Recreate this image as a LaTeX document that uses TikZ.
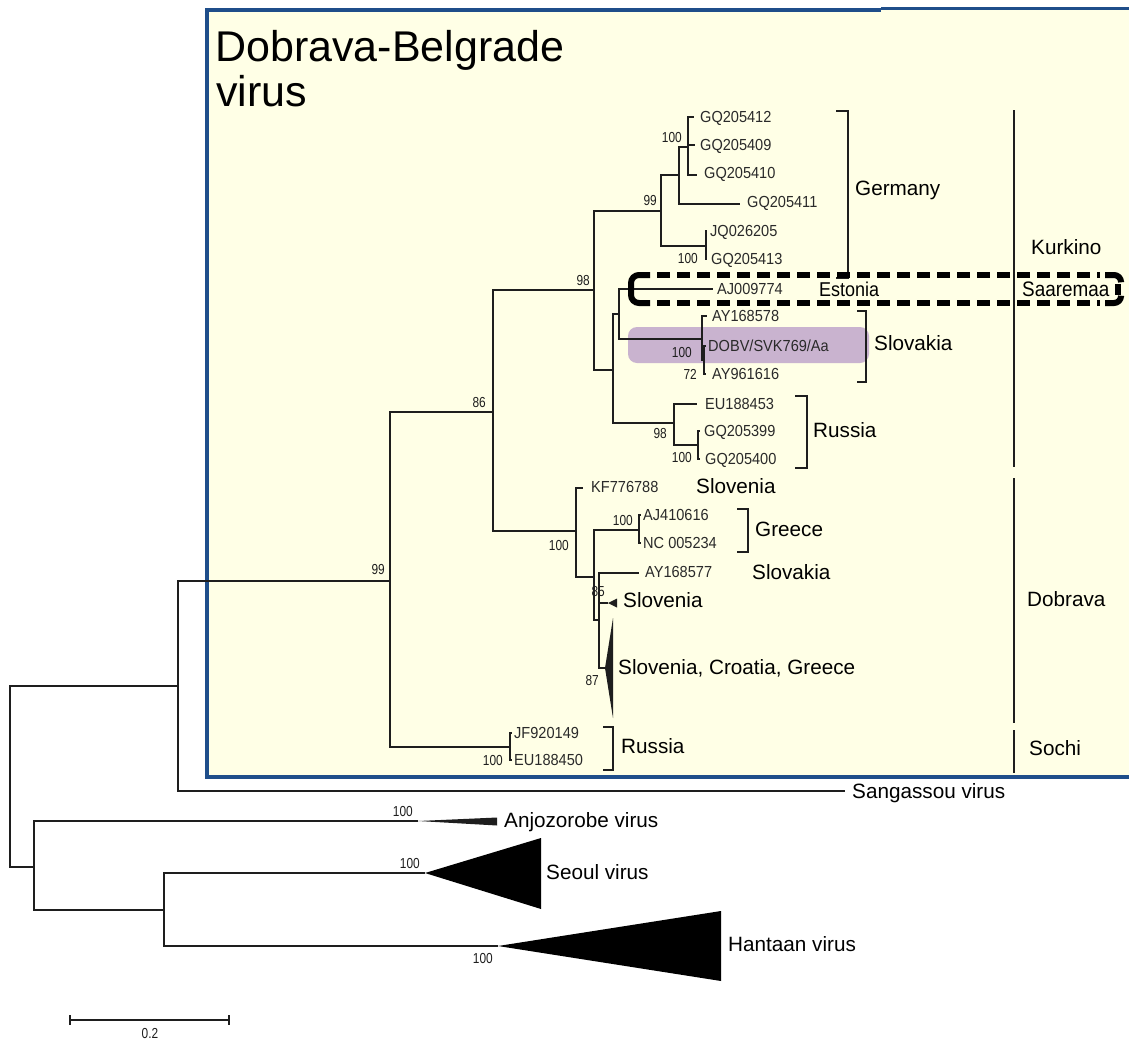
\documentclass[tikz,border=0pt]{standalone}
\usepackage{fontspec}
\setmainfont{Liberation Sans}
\newfontfamily\leafface[FakeStretch=0.91]{Liberation Sans}
\newfontfamily\bootface[FakeStretch=0.82]{Liberation Sans}
\newfontfamily\tagface[FakeStretch=0.9]{Liberation Sans}
\definecolor{boxfill}{HTML}{FFFFE6}
\definecolor{boxedge}{HTML}{1F4E8A}
\definecolor{treeink}{HTML}{1E1E1E}
\definecolor{leafink}{HTML}{2A2A2A}
\definecolor{hilite}{HTML}{C9B3CF}
\begin{document}
\begin{tikzpicture}[x=1pt,y=-1pt,
  branch/.style={draw=treeink,line width=1.1pt},
  bracket/.style={draw=treeink,line width=1.2pt},
  frame/.style={draw=black,line width=6pt},
  leaf/.style={anchor=base west,inner sep=0pt,text=leafink,
    font=\leafface\fontsize{16pt}{16pt}\selectfont,yshift=-5.7pt},
  boot/.style={anchor=base east,inner sep=0pt,text=treeink,
    font=\bootface\fontsize{14.5pt}{14.5pt}\selectfont,yshift=-5.2pt},
  region/.style={anchor=base west,inner sep=0pt,text=black,
    font=\fontsize{20.7pt}{20.7pt}\selectfont,yshift=-7.4pt},
  tag/.style={anchor=base west,inner sep=0pt,text=black,
    font=\tagface\fontsize{20pt}{20pt}\selectfont,yshift=-7.2pt},
  heading/.style={anchor=base west,inner sep=0pt,text=black,
    font=\fontsize{43pt}{43pt}\selectfont}]
\useasboundingbox (0,0) rectangle (1129,1041);

% panel of the Dobrava-Belgrade clade
\fill[boxfill] (207,9) rectangle (1129,777);
\draw[boxedge,line width=3.5pt] (1129,777) -- (207,777) -- (207,10) -- (881,10);
\draw[boxedge,line width=3pt] (881,8.5) -- (1129,8.5);
\fill[hilite,rounded corners=9pt] (628,327) rectangle (869,363);

\node[heading] (title1) at (215,62) {Dobrava-Belgrade};
\node[heading] (title2) at (216,106) {virus};

% internal nodes (x = node depth, y = where the parent branch arrives)
\coordinate (root) at (10,776);
\coordinate (nA) at (178,686);
\coordinate (nB) at (34,867);
\coordinate (nC) at (164,910);
\coordinate (n99) at (390,581);
\coordinate (n86) at (493,412);
\coordinate (n98) at (594,290);
\coordinate (nGer) at (661,211);
\coordinate (nG1) at (679,175);
\coordinate (nG2) at (688,147);
\coordinate (nG3) at (706,246);
\coordinate (nK1) at (613,370);
\coordinate (nK2) at (619,314);
\coordinate (nSk) at (702,339);
\coordinate (nSk2) at (704,360);
\coordinate (nRu) at (674,423);
\coordinate (nRu2) at (698,445);
\coordinate (nDo) at (576,531);
\coordinate (nD1) at (594,577);
\coordinate (nGr) at (639,530);
\coordinate (nD2) at (599,620);
\coordinate (nSo) at (510,747);

% branch tips
\coordinate (tSang) at (845,791);
\coordinate (t412) at (694,117);
\coordinate (t409) at (695,145);
\coordinate (t410) at (697,175);
\coordinate (t411) at (740,204);
\coordinate (tJQ) at (707,231);
\coordinate (t413) at (707,259);
\coordinate (tAJ) at (713,289);
\coordinate (tAY8) at (707,316);
\coordinate (tDOBV) at (706,346);
\coordinate (tAY6) at (706,374);
\coordinate (tEU3) at (697,404);
\coordinate (t399) at (700,431);
\coordinate (t400) at (700,459);
\coordinate (tKF) at (583,488);
\coordinate (tAJ4) at (641,515);
\coordinate (tNC) at (641,543);
\coordinate (tAY7) at (639,573);
\coordinate (cSlo) at (608,603);
\coordinate (cBig) at (605,668);
\coordinate (tJF) at (512,733);
\coordinate (tEU0) at (512,760);
\coordinate (cAnj) at (418,821);
\coordinate (cSeo) at (425,873);
\coordinate (cHan) at (498,946);

% rectangular branches
\foreach \p/\c in {root/nA,root/nB,nA/n99,nA/tSang,nB/cAnj,nB/nC,nC/cSeo,nC/cHan,
  n99/n86,n99/nSo,n86/n98,n86/nDo,n98/nGer,n98/nK1,nGer/nG1,nGer/nG3,
  nG1/nG2,nG1/t411,nG2/t412,nG2/t409,nG2/t410,nG3/tJQ,nG3/t413,
  nK1/nK2,nK1/nRu,nK2/tAJ,nK2/nSk,nSk/tAY8,nSk/nSk2,nSk2/tDOBV,nSk2/tAY6,
  nRu/tEU3,nRu/nRu2,nRu2/t399,nRu2/t400,
  nDo/tKF,nDo/nD1,nD1/nGr,nD1/nD2,nGr/tAJ4,nGr/tNC,
  nD2/tAY7,nD2/cSlo,nD2/cBig,nSo/tJF,nSo/tEU0}
  \draw[branch] (\p) |- (\c);

% collapsed clades
\fill[treeink] (cAnj) -- (497,817.5) -- (497,825.5) -- cycle;
\fill[black] (cSeo) -- (541,838) -- (541,909) -- cycle;
\fill[black] (cHan) -- (721,911) -- (721,981) -- cycle;
\fill[treeink] (cSlo) -- (617,598.5) -- (617,607.5) -- cycle;
\fill[treeink] (cBig) -- (613,618) -- (613,718) -- cycle;

% sequence labels
\node[leaf] (l412) at (700,117) {GQ205412};
\node[leaf] (l409) at (700,145) {GQ205409};
\node[leaf] (l410) at (704,173) {GQ205410};
\node[leaf] (l411) at (747,202) {GQ205411};
\node[leaf] (lJQ) at (710,231) {JQ026205};
\node[leaf] (l413) at (711,259) {GQ205413};
\node[leaf] (lAJ) at (717,289) {AJ009774};
\node[leaf] (lAY8) at (712,316) {AY168578};
\node[leaf] (lDOBV) at (708,346) {DOBV/SVK769/Aa};
\node[leaf] (lAY6) at (712,374) {AY961616};
\node[leaf] (lEU3) at (705,404) {EU188453};
\node[leaf] (l399) at (704,431) {GQ205399};
\node[leaf] (l400) at (705,459) {GQ205400};
\node[leaf] (lKF) at (591,487) {KF776788};
\node[leaf] (lAJ4) at (643,515) {AJ410616};
\node[leaf] (lNC) at (643,543) {NC 005234};
\node[leaf] (lAY7) at (645,572) {AY168577};
\node[leaf] (lJF) at (514,733) {JF920149};
\node[leaf] (lEU0) at (514,760) {EU188450};

% bootstrap support
\node[boot] (b1) at (385,569) {99};
\node[boot] (b2) at (486,402) {86};
\node[boot] (b3) at (590,280) {98};
\node[boot] (b4) at (657,200) {99};
\node[boot] (b5) at (682,137) {100};
\node[boot] (b6) at (698,258) {100};
\node[boot] (b7) at (692,352) {100};
\node[boot] (b8) at (697,374) {72};
\node[boot] (b9) at (667,433) {98};
\node[boot] (b10) at (692,457) {100};
\node[boot] (b11) at (569,545) {100};
\node[boot] (b12) at (633,520) {100};
\node[boot] (b13) at (605,591) {85};
\node[boot] (b14) at (599,680) {87};
\node[boot] (b15) at (503,760) {100};
\node[boot] (b16) at (413,811) {100};
\node[boot] (b17) at (420,863) {100};
\node[boot] (b18) at (493,958) {100};

% country brackets
\draw[bracket] (836,111) -- (848,111) -- (848,278) -- (836,278);
\draw[bracket] (857,311) -- (866,311) -- (866,382) -- (857,382);
\draw[bracket] (795,396) -- (807,396) -- (807,468) -- (795,468);
\draw[bracket] (737,509) -- (748,509) -- (748,552) -- (737,552);
\draw[bracket] (603,727) -- (613,727) -- (613,770) -- (603,770);

% genotype bars
\draw[bracket] (1014,110) -- (1014,467);
\draw[bracket] (1014,478) -- (1014,723);
\draw[bracket] (1014,730) -- (1014,773);

% country and genotype names
\node[region] (rGer) at (855,188) {Germany};
\node[region] (rSk) at (874,343) {Slovakia};
\node[region] (rRu) at (813,430) {Russia};
\node[region] (rSl) at (696,486) {Slovenia};
\node[region] (rGr) at (755,529) {Greece};
\node[region] (rSk2) at (752,572) {Slovakia};
\node[region] (rSl2) at (623,600) {Slovenia};
\node[region] (rSCG) at (618,667) {Slovenia, Croatia, Greece};
\node[region] (rRu2) at (621,746) {Russia};
\node[tag] (rEst) at (819,289) {Estonia};
\node[region] (gKur) at (1031,247) {Kurkino};
\node[tag,font=\tagface\fontsize{21pt}{21pt}\selectfont] (gSaa) at (1022,289) {Saaremaa};
\node[region] (gDob) at (1027,599) {Dobrava};
\node[region] (gSoc) at (1029,748) {Sochi};

% outgroups
\node[region] (sSang) at (852,791) {Sangassou virus};
\node[region] (sAnj) at (504,820) {Anjozorobe virus};
\node[region] (sSeo) at (546,872) {Seoul virus};
\node[region] (sHan) at (728,944) {Hantaan virus};

% Saaremaa lineage frame: solid left cap, dashed long sides, broken right cap
\draw[frame,rounded corners=8pt] (650,275) -- (631,275) -- (631,303) -- (650,303);
\draw[frame,dash pattern=on 13pt off 7pt] (657,275) -- (1100,275);
\draw[frame,dash pattern=on 13pt off 7pt] (657,303) -- (1100,303);
\draw[frame,rounded corners=7pt] (1105,275) -- (1121,275) -- (1121,281);
\draw[frame,rounded corners=7pt] (1105,303) -- (1121,303) -- (1121,297);
\draw[frame] (1118,284) -- (1118,295);

% scale bar
\coordinate (sb0) at (70,1020);
\coordinate (sb1) at (229,1020);
\draw[treeink,line width=1.1pt] (sb0) -- (sb1);
\draw[treeink,line width=1.1pt] (70,1015) -- (70,1025) (229,1015) -- (229,1025);
\node[inner sep=0pt,text=treeink,font=\bootface\fontsize{14.5pt}{14.5pt}\selectfont] (sbl) at (150,1033) {0.2};
\end{tikzpicture}
\end{document}
